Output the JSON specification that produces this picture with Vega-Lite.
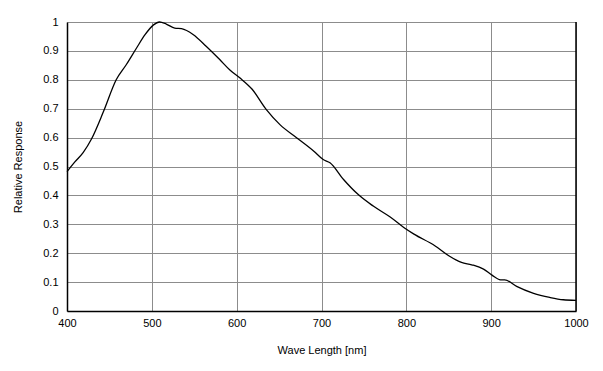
{
  "$schema": "https://vega.github.io/schema/vega-lite/v6.json",
  "autosize": {"type": "none"},
  "padding": {"left": 67, "top": 22, "right": 27, "bottom": 60},
  "width": 509,
  "height": 289,
  "background": "white",
  "config": {
    "view": {"stroke": null},
    "font": "Liberation Sans",
    "axis": {
      "labelFont": "Liberation Sans",
      "titleFont": "Liberation Sans",
      "labelFontSize": 11,
      "titleFontSize": 11,
      "titleFontWeight": "normal",
      "labelColor": "#000",
      "titleColor": "#000",
      "gridColor": "#8c8c8c",
      "gridOpacity": 1,
      "gridWidth": 1,
      "domainColor": "#000",
      "domainWidth": 1.5,
      "ticks": false
    }
  },
  "datasets": {
    "curve": [
      {"wl": 400, "r": 0.482},
      {"wl": 409, "r": 0.515},
      {"wl": 419, "r": 0.548},
      {"wl": 429, "r": 0.596},
      {"wl": 443, "r": 0.69},
      {"wl": 458, "r": 0.8},
      {"wl": 470, "r": 0.853},
      {"wl": 482, "r": 0.91},
      {"wl": 492, "r": 0.956},
      {"wl": 502, "r": 0.99},
      {"wl": 509, "r": 1.0},
      {"wl": 517, "r": 0.993},
      {"wl": 527, "r": 0.979},
      {"wl": 535, "r": 0.977},
      {"wl": 549, "r": 0.956},
      {"wl": 564, "r": 0.916},
      {"wl": 580, "r": 0.87},
      {"wl": 592, "r": 0.834},
      {"wl": 604, "r": 0.806},
      {"wl": 618, "r": 0.768},
      {"wl": 635, "r": 0.697},
      {"wl": 651, "r": 0.645},
      {"wl": 671, "r": 0.599},
      {"wl": 691, "r": 0.553},
      {"wl": 702, "r": 0.524},
      {"wl": 710, "r": 0.513},
      {"wl": 726, "r": 0.455},
      {"wl": 744, "r": 0.401},
      {"wl": 761, "r": 0.363},
      {"wl": 781, "r": 0.325},
      {"wl": 797, "r": 0.289},
      {"wl": 809, "r": 0.266},
      {"wl": 834, "r": 0.225},
      {"wl": 850, "r": 0.191},
      {"wl": 865, "r": 0.168},
      {"wl": 877, "r": 0.16},
      {"wl": 891, "r": 0.145},
      {"wl": 901, "r": 0.124},
      {"wl": 911, "r": 0.108},
      {"wl": 916, "r": 0.108},
      {"wl": 930, "r": 0.085},
      {"wl": 950, "r": 0.061},
      {"wl": 969, "r": 0.047},
      {"wl": 985, "r": 0.039},
      {"wl": 1000, "r": 0.037}
    ],
    "border": [{"wl": 1000}]
  },
  "layer": [
    {
      "data": {"name": "curve"},
      "mark": {"type": "line", "color": "#000", "strokeWidth": 1.3, "interpolate": "monotone"},
      "encoding": {
        "x": {
          "field": "wl", "type": "quantitative",
          "scale": {"domain": [400, 1000], "nice": false, "zero": false},
          "axis": {"values": [400, 500, 600, 700, 800, 900, 1000], "format": "d", "title": "Wave Length [nm]", "labelPadding": 6, "titlePadding": 16, "labelFlush": false}
        },
        "y": {
          "field": "r", "type": "quantitative",
          "scale": {"domain": [0, 1], "nice": false},
          "axis": {"values": [0, 0.1, 0.2, 0.3, 0.4, 0.5, 0.6, 0.7, 0.8, 0.9, 1], "format": "~g", "title": "Relative Response", "labelPadding": 9, "titlePadding": 19, "labelFlush": false}
        }
      }
    },
    {
      "data": {"name": "border"},
      "mark": {"type": "rule", "color": "#000", "strokeWidth": 1.5},
      "encoding": {"x": {"field": "wl", "type": "quantitative"}}
    }
  ]
}
